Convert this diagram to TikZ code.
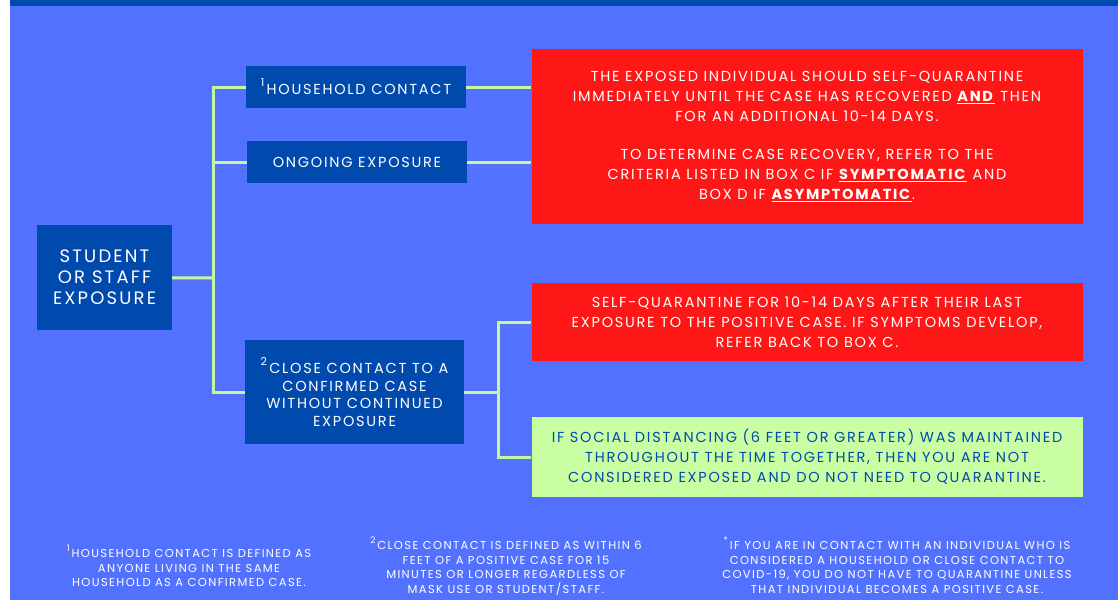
\documentclass[tikz,border=0pt]{standalone}
\usepackage{fontspec}
\setmainfont{Poppins}[LetterSpace=12]
\usetikzlibrary{positioning}
\definecolor{bgblue}{HTML}{5271FF}
\definecolor{darkblue}{HTML}{004AAD}
\definecolor{alertred}{HTML}{FF1616}
\definecolor{palegreen}{HTML}{C9FFA2}
\definecolor{linegreen}{HTML}{C5F7A0}
\newcommand\fnmark[2][11]{\raisebox{0.55em}{\fontsize{#1}{#1}\selectfont #2}\,}

\begin{document}
\begin{tikzpicture}[x=1pt,y=-1pt,
    box/.style={fill=darkblue,text=white,align=center,inner sep=0pt},
    redbox/.style={fill=alertred,text=white,align=center,inner sep=0pt,
      minimum width=551,font=\fontsize{14.5}{20}\selectfont},
    greenbox/.style={fill=palegreen,text=darkblue,align=center,inner sep=0pt,
      minimum width=551,font=\fontsize{14.5}{20}\selectfont},
    link/.style={draw=linegreen,line width=3pt},
    note/.style={text=white,align=center,font=\fontsize{11.5}{14.5}\selectfont}]
  \fill[white] (0,0) rectangle (1118,600);
  \fill[bgblue] (10,0) rectangle (1118,600);
  \fill[darkblue] (10,0) rectangle (1118,6);
  \useasboundingbox (0,0) rectangle (1118,600);

  % left column
  \node[box,minimum width=135,minimum height=105,font=\fontsize{18}{21}\selectfont]
    (student) at (104.5,277.5) {STUDENT\\OR STAFF\\EXPOSURE};
  \node[box,minimum width=220,minimum height=42,font=\fontsize{14.5}{18}\selectfont]
    (household) at (356,87) {\fnmark{1}HOUSEHOLD CONTACT};
  \node[box,minimum width=220,minimum height=42,font=\fontsize{14.5}{18}\selectfont]
    (ongoing) at (357,162) {ONGOING EXPOSURE};
  \node[box,minimum width=219,minimum height=104,font=\fontsize{14.5}{17.5}\selectfont]
    (close) at (354.5,392) {\fnmark{2}CLOSE CONTACT TO A\\CONFIRMED CASE\\WITHOUT CONTINUED\\EXPOSURE};

  % right column
  \node[redbox,minimum height=175] (red1) at (807,136.5) {%
    THE EXPOSED INDIVIDUAL SHOULD SELF-QUARANTINE\\
    IMMEDIATELY UNTIL THE CASE HAS RECOVERED \underline{\textbf{AND}} THEN\\
    FOR AN ADDITIONAL 10-14 DAYS.\\[18pt]
    TO DETERMINE CASE RECOVERY, REFER TO THE\\
    CRITERIA LISTED IN BOX C IF \underline{\textbf{SYMPTOMATIC}} AND\\
    BOX D IF \underline{\textbf{ASYMPTOMATIC}}.};
  \node[redbox,minimum height=78] (red2) at (807,322) {%
    SELF-QUARANTINE FOR 10-14 DAYS AFTER THEIR LAST\\
    EXPOSURE TO THE POSITIVE CASE. IF SYMPTOMS DEVELOP,\\
    REFER BACK TO BOX C.};
  \node[greenbox,minimum height=80] (green) at (807,457) {%
    IF SOCIAL DISTANCING (6 FEET OR GREATER) WAS MAINTAINED\\
    THROUGHOUT THE TIME TOGETHER, THEN YOU ARE NOT\\
    CONSIDERED EXPOSED AND DO NOT NEED TO QUARANTINE.};

  % connectors
  \coordinate (jl) at (213,278);
  \coordinate (jr) at (498,392);
  \draw[link] (student) -- (jl);
  \draw[link] (jl) |- (household);
  \draw[link] (jl) |- (ongoing);
  \draw[link] (jl) |- (close);
  \draw[link] (household.east) -- (household.east -| red1.west);
  \draw[link] (ongoing.east) -- (ongoing.east -| red1.west);
  \draw[link] (close) -- (jr);
  \draw[link] (jr) |- (red2);
  \draw[link] (jr) |- (green);

  % footnotes
  \node[note] (note1) at (189,566) {\fnmark[9]{1}HOUSEHOLD CONTACT IS DEFINED AS\\
    ANYONE LIVING IN THE SAME\\HOUSEHOLD AS A CONFIRMED CASE.};
  \node[note] (note2) at (506,566) {\fnmark[9]{2}CLOSE CONTACT IS DEFINED AS WITHIN 6\\
    FEET OF A POSITIVE CASE FOR 15\\MINUTES OR LONGER REGARDLESS OF\\
    MASK USE OR STUDENT/STAFF.};
  \node[note] (note3) at (897,565) {\fnmark[9]{*}IF YOU ARE IN CONTACT WITH AN INDIVIDUAL WHO IS\\
    CONSIDERED A HOUSEHOLD OR CLOSE CONTACT TO\\
    COVID-19, YOU DO NOT HAVE TO QUARANTINE UNLESS\\
    THAT INDIVIDUAL BECOMES A POSITIVE CASE.};
\end{tikzpicture}
\end{document}
